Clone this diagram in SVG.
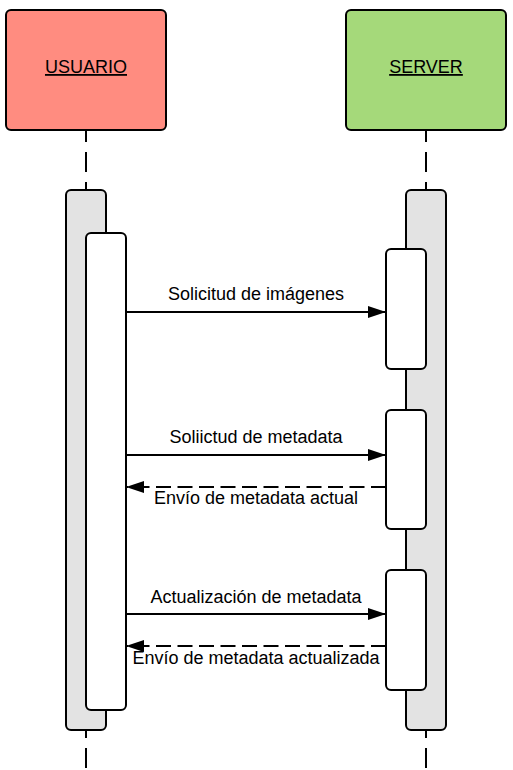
<svg xmlns="http://www.w3.org/2000/svg" width="513" height="770" viewBox="0 0 513 770">
<style>
.box{stroke:#000;stroke-width:2}
.life{stroke:#000;stroke-width:2;stroke-dasharray:20 10;fill:none}
.act{fill:#e3e3e3;stroke:#000;stroke-width:2}
.act2{fill:#fff;stroke:#000;stroke-width:2}
.msg{stroke:#000;stroke-width:2;fill:none}
.ret{stroke:#000;stroke-width:2;fill:none;stroke-dasharray:15 6.5}
.lbl{font-family:"Liberation Sans",Arial,sans-serif;font-size:18px;fill:#000;text-anchor:middle}
.hdr{font-family:"Liberation Sans",Arial,sans-serif;font-size:18px;fill:#000;text-anchor:middle;text-decoration:underline}
</style>
<defs>
<marker id="ah" viewBox="0 0 18 12" refX="17" refY="6" markerWidth="18" markerHeight="12" markerUnits="userSpaceOnUse" orient="auto">
<path d="M0,0 L18,6 L0,12 Z" fill="#000"/>
</marker>
</defs>
<g id="lifelines">
<line class="life" x1="86" y1="130" x2="86" y2="190" stroke-dashoffset="8"/>
<line class="life" x1="86" y1="730" x2="86" y2="770" stroke-dashoffset="12"/>
<line class="life" x1="426" y1="130" x2="426" y2="190" stroke-dashoffset="8"/>
<line class="life" x1="426" y1="730" x2="426" y2="770" stroke-dashoffset="12"/>
</g>
<g id="usuario">
<rect class="box" x="6" y="10" width="160" height="120" rx="5" fill="#ff8c80"/>
<text class="hdr" x="86" y="73">USUARIO</text>
</g>
<g id="server">
<rect class="box" x="346" y="10" width="160" height="120" rx="5" fill="#a5d97a"/>
<text class="hdr" x="426" y="73">SERVER</text>
</g>
<g id="usuario-activation">
<rect class="act" x="66" y="190" width="40" height="540" rx="5"/>
<rect class="act2" x="86" y="233" width="40" height="477" rx="5"/>
</g>
<g id="server-activation">
<rect class="act" x="406" y="190" width="40" height="540" rx="5"/>
<rect class="act2" x="386" y="249" width="40" height="120" rx="5"/>
<rect class="act2" x="386" y="410" width="40" height="119" rx="5"/>
<rect class="act2" x="386" y="570" width="40" height="120" rx="5"/>
</g>
<g id="connectors">
<line class="msg" x1="126" y1="312" x2="385" y2="312" marker-end="url(#ah)"/>
<line class="msg" x1="126" y1="455" x2="385" y2="455" marker-end="url(#ah)"/>
<line class="ret" x1="386" y1="487" x2="127" y2="487" marker-end="url(#ah)"/>
<line class="msg" x1="126" y1="614" x2="385" y2="614" marker-end="url(#ah)"/>
<line class="ret" x1="386" y1="646" x2="127" y2="646" marker-end="url(#ah)"/>
</g>
<g id="labels">
<text class="lbl" x="256" y="300">Solicitud de imágenes</text>
<text class="lbl" x="256" y="443">Soliictud de metadata</text>
<text class="lbl" x="256" y="504">Envío de metadata actual</text>
<text class="lbl" x="256" y="603">Actualización de metadata</text>
<text class="lbl" x="256" y="664">Envío de metadata actualizada</text>
</g>
</svg>
